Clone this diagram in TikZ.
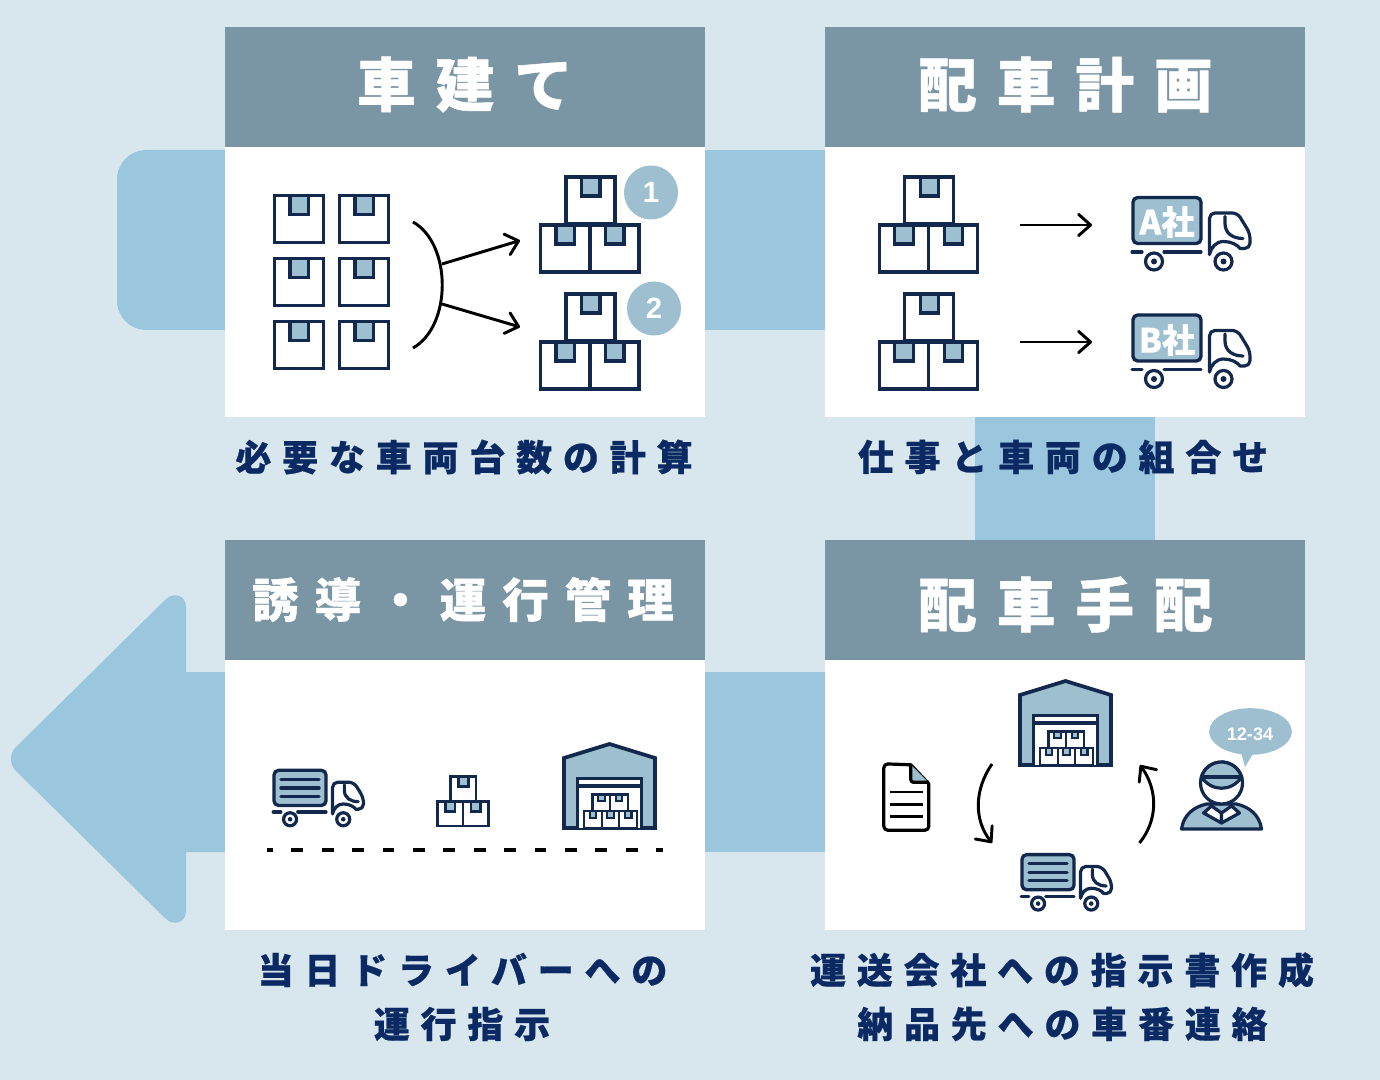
\documentclass[tikz,border=0pt]{standalone}
\usepackage{fontspec}
\usetikzlibrary{arrows.meta,shapes.callouts}
\newfontfamily\jpfont[BoldFeatures={FakeBold=.6}]{Noto Sans CJK JP}
\newfontfamily\jpspaced[LetterSpace=34,BoldFeatures={FakeBold=.8}]{Noto Sans CJK JP}
\newfontfamily\jpcaption[LetterSpace=30,BoldFeatures={FakeBold=.6}]{Noto Sans CJK JP}
\setsansfont{Liberation Sans}
\definecolor{pagecol}{HTML}{D8E6EE}
\definecolor{flowcol}{HTML}{9AC7DE}
\definecolor{headcol}{HTML}{7A95A3}
\definecolor{tintcol}{HTML}{9DBFD0}
\definecolor{navycol}{HTML}{12284C}
\definecolor{textcol}{HTML}{0B2A63}
\tikzset{
  headbox/.style={fill=headcol,minimum width=360pt,minimum height=90pt,inner sep=0pt},
  bodybox/.style={fill=white,minimum width=360pt,minimum height=202.5pt,inner sep=0pt},
  titletext/.style={text=white,inner sep=0pt,font=\jpspaced\bfseries\fontsize{44pt}{44pt}\selectfont},
  capt/.style={text=textcol,inner sep=0pt,font=\jpcaption\bfseries\fontsize{27pt}{27pt}\selectfont},
  badge/.style={circle,fill=tintcol,text=white,minimum size=40.5pt,inner sep=0pt,font=\sffamily\bfseries\fontsize{22pt}{22pt}\selectfont},
  truckmark/.style={text=white,inner sep=0pt,font=\jpfont\bfseries\fontsize{25pt}{25pt}\selectfont},
  pointer/.style={line width=2.2pt,-{Straight Barb[length=9pt,width=16pt,round]}},
  pics/carton/.style={code={
    \draw[navycol,fill=white] (0,0) rectangle (49,47);
    \draw[navycol,fill=tintcol] (15.5,0) rectangle (34,19);
  }},
  pics/stack/.style={code={
    \pic[transform shape] at (25.5,0) {carton};
    \pic[transform shape] at (0,48) {carton};
    \pic[transform shape] at (49.5,48) {carton};
  }},
  pics/truck/.style={code={
    \tikzset{line width=2.3pt}
    \draw[navycol,fill=tintcol,rounded corners=3.5pt,line width=2.5pt] (0,0) rectangle (68,46);
    \draw[navycol,line cap=round] (-1,54.5) -- (9,54.5);
    \draw[navycol,line cap=round] (31,54.5) -- (68,54.5);
    \draw[navycol,line cap=round,line join=round]
      (76.5,57) [rounded corners=4pt] -- (76.5,15.5) -- (104.5,15.5) -- (117,36) -- (117,51) [sharp corners] -- (107,51)
      .. controls (104,47) and (98,44) .. (90.5,44) .. controls (83,44) and (78,50) .. (76.5,57);
    \draw[navycol,line cap=round] (92,19) -- (92,26) .. controls (92,36) and (100,41) .. (110,41);
    \draw[navycol,fill=white] (21,64) circle[radius=8.5];
    \fill[navycol] (21,64) circle[radius=3];
    \draw[navycol,fill=white] (90.5,64) circle[radius=8.5];
    \fill[navycol] (90.5,64) circle[radius=3];
  }},
  pics/loadtruck/.style={code={
    \pic[transform shape] {truck};
    \foreach \rowy in {12,23,34}
      \draw[navycol,line cap=round,line width=2.4pt] (9,\rowy) -- (59,\rowy);
  }},
  pics/depot/.style={code={
    \draw[navycol,fill=tintcol,line width=2.8pt] (0,84) -- (0,14) -- (45.5,0) -- (91,14) -- (91,84) -- cycle;
    \draw[navycol,fill=white,line width=2.8pt] (13.5,84) -- (13.5,34.5) -- (77.5,34.5) -- (77.5,84);
    \draw[navycol,line width=2.8pt] (13.5,42) -- (77.5,42);
    \foreach \boxx/\boxy in {28.5/50.5,46/50.5,20/67,37.6/67,55.2/67}
      \pic[scale=.36,line width=1.6pt] at (\boxx,\boxy) {carton};
  }},
  pics/sheet/.style={code={
    \draw[black,fill=white,line join=round] (0,0) [rounded corners=3pt] -- (0,66.5) -- (45,66.5) [sharp corners] -- (45,20) -- (27,1) [rounded corners=3pt] -- cycle;
    \fill[tintcol] (27,1) -- (27,18) -- (44,18) -- cycle;
    \draw[black,line join=round] (27,1) [rounded corners=2pt] -- (27,18.5) -- (45,18.5);
    \foreach \rowy in {28,40.5,52.5}
      \draw[black,line width=1.9pt] (6,\rowy) -- (39.5,\rowy);
  }},
  pics/driver/.style={code={
    \draw[navycol,fill=tintcol,line join=round] (-40,46) .. controls (-38,32) and (-28,24) .. (-15,21) -- (15,21) .. controls (28,24) and (38,32) .. (40,46) -- cycle;
    \draw[navycol,fill=white,line join=round] (-18,30) -- (-10,23) -- (0,30) -- (0,40) -- cycle;
    \draw[navycol,fill=white,line join=round] (18,30) -- (10,23) -- (0,30) -- (0,40) -- cycle;
    \draw[navycol,fill=white] (0,0) circle[radius=21];
    \draw[navycol,fill=tintcol] (-20.1,-6) arc[start angle=196.6,end angle=343.4,radius=21] .. controls (10,9) and (-10,9) .. cycle;
    \draw[navycol] (-20.1,-6) -- (20.1,-6);
  }}
}
\begin{document}
\begin{tikzpicture}[x=.75pt,y=-.75pt,line width=2.4pt]

  \fill[pagecol] (0,0) rectangle (1380,1080);

  % flow behind the panels
  \begin{scope}[flowcol]
    \fill[rounded corners=22pt] (300,150) -- (117,150) -- (117,330) -- (300,330) -- cycle;
    \fill (705,150) rectangle (825,330);
    \fill (975,417) rectangle (1155,540);
    \fill (705,672) rectangle (825,852);
    \fill (260,672) -- (186,672) -- (186,607) .. controls (186,594) and (172,592) .. (165,600)
      -- (15,748) .. controls (9.7,754) and (9.7,764) .. (15,770)
      -- (165,918) .. controls (172,926) and (186,924) .. (186,911) -- (186,852) -- (260,852) -- cycle;
  \end{scope}

  \begin{scope}[every node/.style=bodybox]
    \node (body1) at (465,282) {};
    \node (body2) at (1065,282) {};
    \node (body3) at (465,795) {};
    \node (body4) at (1065,795) {};
  \end{scope}

  \begin{scope}[every node/.style=headbox]
    \node (head1) at (465,87) {};
    \node (head2) at (1065,87) {};
    \node (head3) at (465,600) {};
    \node (head4) at (1065,600) {};
  \end{scope}

  \begin{scope}[every node/.style=titletext]
    \node (title1) at (465,84.5) {車建て};
    \node (title2) at (1065.5,84.5) {配車計画};
    \node[font=\jpspaced\bfseries\fontsize{35pt}{35pt}\selectfont] (title3) at (463,599.5) {誘導・運行管理};
    \node (title4) at (1065.5,604.5) {配車手配};
  \end{scope}

  \begin{scope}[every node/.style=capt]
    \node (capt1) at (464,457) {必要な車両台数の計算};
    \node (capt2) at (1063,457) {仕事と車両の組合せ};
    \node (capt3a) at (462.5,970) {当日ドライバーへの};
    \node (capt3b) at (462,1024) {運行指示};
    \node (capt4a) at (1062,970) {運送会社への指示書作成};
    \node (capt4b) at (1062.5,1024) {納品先への車番連絡};
  \end{scope}

  % panel 1
  \foreach \boxx in {274.5,339.5}
    \foreach \boxy in {195.5,258.5,321.5}
      \pic[transform shape,line width=2.7pt] at (\boxx,\boxy) {carton};
  \pic at (540.5,177) {stack};
  \pic at (540.5,294) {stack};
  \node[badge] (one) at (651,192.5) {1};
  \node[badge] (two) at (654,308.5) {2};
  \coordinate (bowtop) at (413,222);
  \coordinate (bowbot) at (413,348);
  \coordinate (bowup) at (442,264);
  \coordinate (bowdown) at (442,304);
  \coordinate (pileup) at (520,240.5);
  \coordinate (piledown) at (520,327);
  \draw[line width=2.2pt] (bowtop) .. controls (452,244) and (452,326) .. (bowbot);
  \draw[pointer] (bowup) -- (pileup);
  \draw[pointer] (bowdown) -- (piledown);

  % panel 2
  \pic at (879.2,177) {stack};
  \pic at (879.2,294) {stack};
  \pic at (1133,197.5) {truck};
  \pic at (1133,315) {truck};
  \node[truckmark] (compa) at (1167,222) {A社};
  \node[truckmark] (compb) at (1167,340) {B社};
  \coordinate (froma) at (1020,225);
  \coordinate (toa) at (1092,225);
  \coordinate (fromb) at (1020,342);
  \coordinate (tob) at (1092,342);
  \draw[pointer] (froma) -- (toa);
  \draw[pointer] (fromb) -- (tob);

  % panel 3
  \pic[scale=.765] at (274,770.3) {loadtruck};
  \pic[scale=.52,line width=1.9pt] at (437.3,776.5) {stack};
  \pic at (564,744) {depot};
  \coordinate (roadl) at (267,850);
  \coordinate (roadr) at (663,850);
  \draw[line width=2.6pt,dash pattern=on 8.8pt off 14pt,dash phase=4.5pt] (roadl) -- (roadr);

  % panel 4
  \pic at (1020,681) {depot};
  \pic[scale=.765] at (1022,854.6) {loadtruck};
  \pic at (883.8,763.8) {sheet};
  \pic at (1221.5,783) {driver};
  \node[ellipse callout,callout absolute pointer={(1245,767)},fill=tintcol,minimum width=62pt,minimum height=35pt,inner sep=0pt] (bubble) at (1250.5,731.5) {};
  \node[text=white,inner sep=0pt,font=\sffamily\bfseries\fontsize{13.6pt}{13.6pt}\selectfont] (number) at (1250,734.5) {12-34};
  \coordinate (lefttop) at (992,764);
  \coordinate (leftbot) at (992,843);
  \coordinate (righttop) at (1140,765);
  \coordinate (rightbot) at (1139.5,843);
  \draw[pointer] (lefttop) .. controls (974,790) and (974,820) .. (leftbot);
  \draw[pointer] (rightbot) .. controls (1158,820) and (1158,790) .. (righttop);

\end{tikzpicture}
\end{document}
